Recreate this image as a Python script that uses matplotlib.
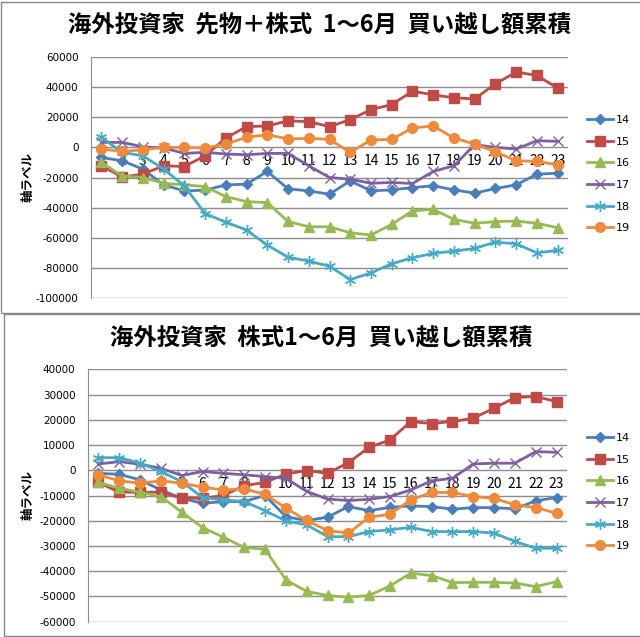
import numpy as np
import matplotlib.pyplot as plt
from matplotlib.patches import Rectangle

plt.rcParams['font.family'] = ['Noto Sans CJK JP', 'DejaVu Sans']

# x categories (1..23)
days = list(range(1, 24))
series_names = ['14', '15', '16', '17', '18', '19']

# top chart: futures + stocks, cumulative net buying
fut_14 = [-6700, -8900, -14400, -24900, -28900, -28400, -24900, -24400, -16000, -27500,
          -28900, -31100, -22200, -28900, -28200, -26700, -25500, -28200, -30400, -27300,
          -24900, -17800, -17100]
fut_15 = [-12200, -19600, -17800, -12200, -12700, -5600, 6200, 13800, 14200, 17600,
          17100, 13800, 18400, 25100, 28400, 37300, 34900, 32900, 32200, 42200,
          50000, 47800, 39300]
fut_16 = [-10000, -18900, -20000, -23800, -24900, -26000, -32700, -36000, -36700, -49200,
          -52700, -52700, -56700, -58200, -51100, -42200, -41100, -47800, -50400, -49300,
          -48900, -50400, -53300]
fut_17 = [3300, 3300, 400, -400, -4000, -3300, -4400, -4900, -4000, -4000,
          -12200, -20000, -21100, -23800, -23300, -24000, -16000, -12200, 1800, 0,
          -1100, 4400, 4000]
fut_18 = [6700, -3300, -5600, -14400, -25500, -44000, -49600, -54900, -64900, -72900,
          -75500, -78900, -87800, -83300, -77300, -73300, -70400, -68900, -67100, -62900,
          -64000, -70000, -68400]
fut_19 = [-1100, -2700, -1600, 0, 0, -400, 2200, 6700, 8400, 5600,
          6000, 5300, -3300, 4900, 5300, 12900, 14200, 6200, 2200, -2900,
          -8900, -9300, -11600]

# bottom chart: stocks only
stk_14 = [-1200, -1600, -3800, -7800, -11100, -13100, -12400, -12400, -10000, -18400,
          -19900, -18600, -14400, -16000, -14700, -14100, -14400, -15400, -14800, -14800,
          -15300, -12100, -10800]
stk_15 = [-4800, -8700, -8700, -8700, -11100, -11100, -10000, -6100, -4800, -1500,
          -100, -1200, 3000, 9100, 12000, 19300, 18500, 19300, 20600, 24600,
          28800, 29200, 27200]
stk_16 = [-4800, -7100, -8700, -10400, -16600, -22700, -26500, -30600, -31300, -43400,
          -48000, -49600, -50300, -49600, -45800, -40800, -41700, -44500, -44400, -44400,
          -44700, -46100, -44100]
stk_17 = [2500, 3400, 2400, 800, -2100, -500, -1200, -1800, -2500, -3200,
          -8400, -11400, -12000, -11500, -10400, -7800, -4200, -3200, 2500, 2800,
          2800, 7400, 7100]
stk_18 = [5000, 5000, 2800, -500, -4500, -10800, -11700, -12400, -16000, -20100,
          -21600, -26300, -26300, -24300, -23600, -22600, -24300, -24300, -24300, -24900,
          -28200, -30900, -30900]
stk_19 = [-1800, -4200, -5100, -4200, -5100, -6700, -7800, -7400, -9500, -15000,
          -19900, -23900, -24900, -18600, -17400, -11700, -8800, -8800, -10400, -11100,
          -13700, -14800, -17000]

top_title = '海外投資家  先物＋株式  1～6月  買い越し額累積'
bottom_title = '海外投資家  株式1～6月  買い越し額累積'
y_label = '軸ラベル'

colors = ['#4A7EBB', '#BE4B48', '#98B954', '#7D60A0', '#46AAC5', '#EE8A3B']
markers = ['D', 's', '^', 'x', (6, 2, 0), 'o']
msizes = [5, 7, 7, 7, 8, 7]
grid_c = '#8C8C8C'


def draw_chart(ax, data, yticks, leg_anchor, ylab_x):
    for vals, name, c, m, ms in zip(data, series_names, colors, markers, msizes):
        ax.plot(days, vals, color=c, lw=2.0, marker=m, ms=ms, mfc=c, mec=c,
                mew=1.0, label=name, zorder=3)
    ax.set_xlim(0.5, 23.5)
    ax.set_ylim(yticks[0], yticks[-1])
    ax.set_yticks(yticks)
    ax.set_yticklabels([str(v) for v in yticks], family='DejaVu Sans', fontsize=7.5)
    ax.set_xticks(days)
    ax.set_xticklabels([str(d) for d in days], family='Liberation Sans', fontsize=8.5)
    ax.tick_params(axis='both', length=0)
    ax.tick_params(axis='y', pad=9)
    ax.tick_params(axis='x', pad=5)
    ax.grid(axis='y', color=grid_c, lw=1.0, zorder=0)
    ax.spines['bottom'].set_position(('data', 0))
    ax.spines['bottom'].set_visible(False)
    ax.spines['top'].set_visible(False)
    ax.spines['right'].set_visible(False)
    ax.spines['left'].set_color(grid_c)
    ax.set_ylabel(y_label, fontsize=9, fontweight='bold')
    ax.yaxis.set_label_coords(ylab_x, 0.5)
    ax.legend(loc='upper left', bbox_to_anchor=leg_anchor, frameon=False,
              numpoints=1, handlelength=2.3, handletextpad=0.3,
              borderaxespad=0, borderpad=0, labelspacing=1.05,
              prop={'family': 'DejaVu Sans', 'size': 8})


fig = plt.figure(figsize=(6.4, 6.37), dpi=100)

# panel frames (chart objects on a sheet)
fig.patches.append(Rectangle((0.5, 637 - 313), 700, 311, transform=None,
                             fill=False, ec='#888888', lw=1.0))
fig.patches.append(Rectangle((3.5, 1.5), 700, 322, transform=None,
                             fill=False, ec='#888888', lw=1.0))

ax1 = fig.add_axes([91 / 640, 339 / 637, 477 / 640, 241 / 637])
draw_chart(ax1, [fut_14, fut_15, fut_16, fut_17, fut_18, fut_19],
           list(range(-100000, 60001, 20000)), (1.04, 0.76), (35 - 91) / 477)

ax2 = fig.add_axes([88 / 640, 15.3 / 637, 479 / 640, 252.4 / 637])
draw_chart(ax2, [stk_14, stk_15, stk_16, stk_17, stk_18, stk_19],
           list(range(-60000, 40001, 10000)), (1.042, 0.748), (35 - 88) / 479)

fig.text(320 / 640, 1 - 24 / 637, top_title, ha='center', va='center',
         fontsize=16.8, fontweight='bold')
fig.text(321 / 640, 1 - 338 / 637, bottom_title, ha='center', va='center',
         fontsize=16.8, fontweight='bold')

fig.savefig('out.png', dpi=100)
